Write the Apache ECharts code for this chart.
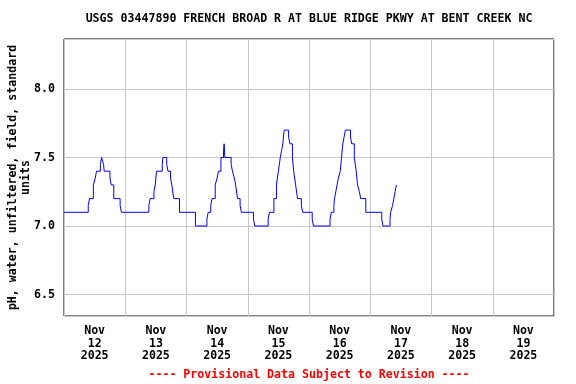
<!DOCTYPE html>
<html>
<head>
<meta charset="utf-8">
<script src="https://cdn.jsdelivr.net/npm/echarts@6/dist/echarts.min.js"></script>
<style>html,body{margin:0;padding:0;background:#fff}#c{width:576px;height:384px}</style>
</head>
<body>
<div id="c"></div>
<script>
const titleText = 'USGS 03447890 FRENCH BROAD R AT BLUE RIDGE PKWY AT BENT CREEK NC';
const yAxisName = 'pH, water, unfiltered, field, standard\nunits';
const footnote = '---- Provisional Data Subject to Revision ----';
const dayLabels = ['Nov\n12\n2025','Nov\n13\n2025','Nov\n14\n2025','Nov\n15\n2025','Nov\n16\n2025','Nov\n17\n2025','Nov\n18\n2025','Nov\n19\n2025'];
const timeStart = '2025-11-12 00:00';
const timeEnd = '2025-11-20 00:00';
const yMin = 6.343, yMax = 8.365;
// change points of the pH record (value holds until next time)
const times = [
 '2025-11-12 00:00','2025-11-12 09:30','2025-11-12 10:00','2025-11-12 11:30','2025-11-12 12:15','2025-11-12 12:45','2025-11-12 14:15','2025-11-12 14:45','2025-11-12 15:30','2025-11-12 15:45','2025-11-12 18:00','2025-11-12 18:30','2025-11-12 19:30','2025-11-12 22:00','2025-11-12 22:30',
 '2025-11-13 09:15','2025-11-13 09:45','2025-11-13 11:15','2025-11-13 11:45','2025-11-13 12:15','2025-11-13 14:30','2025-11-13 14:45','2025-11-13 16:15','2025-11-13 16:45','2025-11-13 17:45','2025-11-13 18:15','2025-11-13 19:00','2025-11-13 21:15',
 '2025-11-14 03:30','2025-11-14 08:00','2025-11-14 08:30','2025-11-14 09:30','2025-11-14 10:00','2025-11-14 11:15','2025-11-14 12:00','2025-11-14 12:30','2025-11-14 13:30','2025-11-14 14:30','2025-11-14 14:45','2025-11-14 15:00','2025-11-14 17:30','2025-11-14 18:00','2025-11-14 18:45','2025-11-14 19:15','2025-11-14 20:00','2025-11-14 21:00','2025-11-14 21:30',
 '2025-11-15 02:15','2025-11-15 02:45','2025-11-15 08:00','2025-11-15 08:30','2025-11-15 10:15','2025-11-15 11:15','2025-11-15 12:00','2025-11-15 12:45','2025-11-15 13:15','2025-11-15 13:45','2025-11-15 14:00','2025-11-15 14:15','2025-11-15 16:00','2025-11-15 16:30','2025-11-15 17:30','2025-11-15 18:00','2025-11-15 18:45','2025-11-15 19:30','2025-11-15 21:00','2025-11-15 21:30',
 '2025-11-16 01:15','2025-11-16 01:45','2025-11-16 08:15','2025-11-16 08:45','2025-11-16 09:45','2025-11-16 10:00','2025-11-16 10:30','2025-11-16 11:00','2025-11-16 11:30','2025-11-16 12:15','2025-11-16 12:45','2025-11-16 13:15','2025-11-16 13:45','2025-11-16 14:15','2025-11-16 16:15','2025-11-16 16:45','2025-11-16 17:45','2025-11-16 18:30','2025-11-16 19:00','2025-11-16 19:45','2025-11-16 20:15','2025-11-16 22:15',
 '2025-11-17 04:30','2025-11-17 05:00','2025-11-17 07:45','2025-11-17 08:00','2025-11-17 08:45','2025-11-17 09:15','2025-11-17 09:45','2025-11-17 10:15','2025-11-17 10:30'
];
const phValues = [
 7.1,7.15,7.2,7.3,7.35,7.4,7.45,7.5,7.45,7.4,7.35,7.3,7.2,7.15,7.1,
 7.15,7.2,7.25,7.3,7.4,7.45,7.5,7.45,7.4,7.35,7.3,7.2,7.1,
 7.0,7.05,7.1,7.15,7.2,7.3,7.35,7.4,7.5,7.55,7.6,7.5,7.45,7.4,7.35,7.3,7.2,7.15,7.1,
 7.05,7.0,7.05,7.1,7.2,7.3,7.4,7.5,7.55,7.6,7.65,7.7,7.65,7.6,7.5,7.4,7.3,7.2,7.15,7.1,
 7.05,7.0,7.05,7.1,7.15,7.2,7.25,7.3,7.35,7.4,7.5,7.6,7.65,7.7,7.65,7.6,7.5,7.4,7.3,7.25,7.2,7.1,
 7.05,7.0,7.05,7.1,7.15,7.2,7.25,7.3,7.3
];

const FONT = '"DejaVu Sans Mono", "Liberation Mono", monospace';
const FS = 11.6;
const chart = echarts.init(document.getElementById('c'), null, {renderer: 'canvas'});
chart.setOption({
  animation: false,
  backgroundColor: '#fff',
  grid: {left: 64, right: 22, top: 39, bottom: 68, show: true, borderColor: '#000', borderWidth: 1,
         backgroundColor: 'transparent', containLabel: false, outerBoundsMode: 'none'},
  graphic: [
    {type: 'text', x: 309, y: 19, style: {text: titleText, font: 'bold ' + FS + 'px ' + FONT, fill: '#000', textAlign: 'center', textVerticalAlign: 'middle'}},
    {type: 'text', x: 309, y: 375, style: {text: footnote, font: 'bold ' + FS + 'px ' + FONT, fill: '#ff0000', textAlign: 'center', textVerticalAlign: 'middle'}}
  ],
  xAxis: [
    {type: 'category', data: dayLabels, boundaryGap: true, position: 'bottom',
     axisLine: {show: false}, axisTick: {show: false},
     axisLabel: {color: '#000', fontFamily: FONT, fontWeight: 'bold', fontSize: FS, lineHeight: 12.5, margin: 9, interval: 0},
     splitLine: {show: true, lineStyle: {color: '#c8c8c8', width: 1}}},
    {type: 'time', min: timeStart, max: timeEnd, show: false}
  ],
  yAxis: {
    type: 'value', min: yMin, max: yMax, splitNumber: 4, minInterval: 0.5, maxInterval: 0.5,
    name: yAxisName, nameLocation: 'middle', nameGap: 32, nameRotate: 90, nameMoveOverlap: false,
    nameTextStyle: {color: '#000', fontFamily: FONT, fontWeight: 'bold', fontSize: FS, lineHeight: 13},
    axisLine: {show: false}, axisTick: {show: false},
    axisLabel: {color: '#000', fontFamily: FONT, fontWeight: 'bold', fontSize: FS, margin: 9,
      showMinLabel: false, showMaxLabel: false,
      formatter: v => (Math.abs(v * 2 - Math.round(v * 2)) < 1e-6 ? v.toFixed(1) : '')},
    splitLine: {show: true, lineStyle: {color: '#c8c8c8', width: 1}}
  },
  series: [{
    type: 'line', xAxisIndex: 1, step: 'end', showSymbol: false, symbol: 'none',
    lineStyle: {color: '#0000ff', width: 1}, itemStyle: {color: '#0000ff'},
    data: times.map((t, i) => [t, phValues[i]])
  }]
});
</script>
</body>
</html>
